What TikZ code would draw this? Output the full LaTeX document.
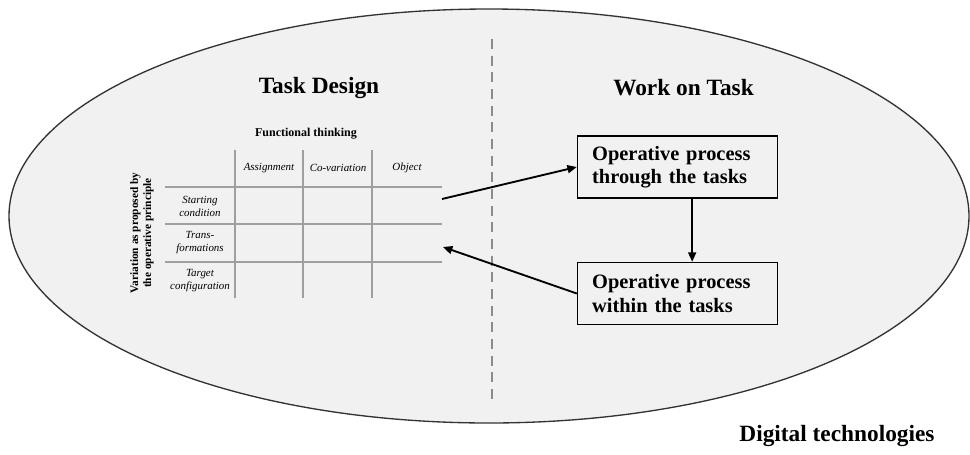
\documentclass[tikz,border=0pt]{standalone}
\usepackage{fontspec}
\setmainfont{Liberation Serif}
\usetikzlibrary{
	arrows.meta,
	positioning,
}
\tikzset{title node/.style={draw=none,font=\bfseries\fontsize{17.5}{21}\selectfont,}}
\tikzset{cell/.style={draw=none,align=center,font=\itshape\fontsize{8.2}{9.75}\selectfont,}}
\tikzset{proc/.style={draw,line width=1.1pt,align=left,text width=128pt,inner xsep=11pt,minimum height=46.5pt,font=\bfseries\fontsize{15.3}{17.3}\selectfont,}}
\tikzset{grid line/.style={gray!75,line width=0.9pt}}
\tikzset{
	>={Triangle[length=7pt,width=6pt]},
	x=0.75pt,
	y=-0.75pt,
}

\begin{document}
\begin{tikzpicture}
\useasboundingbox (0,0) rectangle (970,454);

\draw[fill=gray!11,draw=black!80,line width=1pt] (489,216) ellipse [x radius=480, y radius=207];
\draw[gray!90,line width=1.1pt,dash pattern=on 7.5pt off 5pt] (492,39) -- (492,403);

\node[title node](td) at(319,88) {Task Design};
\node[title node](wt) at(683.5,88) {Work on Task};
\node[title node](dt) at(837,436) {Digital technologies};

% table
\node[draw=none,font=\bfseries\fontsize{9}{11}\selectfont](ft) at(306,134) {Functional thinking};
\node[draw=none,rotate=90,align=center,font=\bfseries\fontsize{8.5}{9.75}\selectfont](var) at(142,233) {Variation as proposed by\\the operative principle};

\foreach \x in {235,303,372} \draw[grid line] (\x,150) -- (\x,298);
\foreach \y in {187,224,262} \draw[grid line] (165,\y) -- (442,\y);

\node[cell](c1) at(269,168) {Assignment};
\node[cell](c2) at(338,168) {Co-variation};
\node[cell](c3) at(407,168) {Object};
\node[cell](r1) at(200,206) {Starting\\condition};
\node[cell](r2) at(200,243) {Trans-\\formations};
\node[cell](r3) at(200,281) {Target\\configuration};

% work on task
\node[proc](p1) at(677.5,167) {Operative process\\through the tasks};
\node[proc](p2) at(677.5,293.5) {Operative process\\within the tasks};

\coordinate(tabout) at(442,199);
\coordinate(tabin) at(443,247);

\draw[->,line width=1.4pt] (tabout) -- (p1.west);
\draw[->,line width=1.4pt] (p2.west) -- (tabin);
\draw[->,line width=1.1pt] ([xshift=11pt]p1.south) -- ([xshift=11pt]p2.north);

\end{tikzpicture}
\end{document}
